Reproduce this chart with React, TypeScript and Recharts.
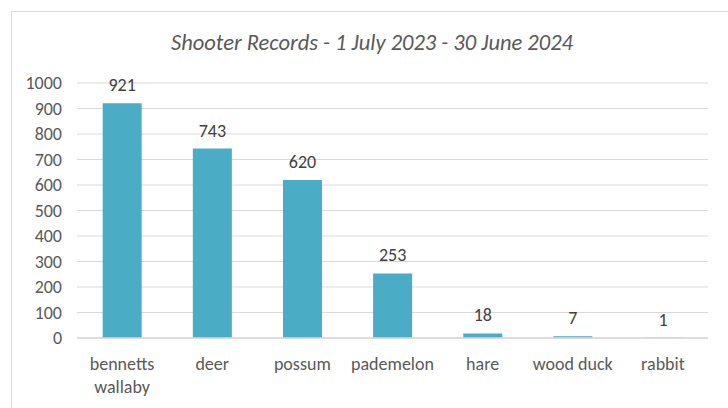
import React from "react";
import { BarChart, Bar, XAxis, YAxis, CartesianGrid, LabelList } from "recharts";

const categories = ["bennetts wallaby", "deer", "possum", "pademelon", "hare", "wood duck", "rabbit"];
const counts = [921, 743, 620, 253, 18, 7, 1];
const yTicks = [0, 100, 200, 300, 400, 500, 600, 700, 800, 900, 1000];
const title = "Shooter Records - 1 July 2023 - 30 June 2024";

const data = categories.map((c, i) => ({ name: c, value: counts[i] }));

const FONT = "Carlito, Lato, 'Open Sans', sans-serif";

const XTick = (props: any) => {
  const { x, y, payload } = props;
  const label: string = payload.value;
  const lines = label === "bennetts wallaby" ? ["bennetts", "wallaby"] : [label];
  return (
    <text x={x} y={y} textAnchor="middle" fill="#595959" fontSize={18} fontFamily={FONT}>
      {lines.map((l, i) => (
        <tspan key={i} x={x} dy={i === 0 ? "0.71em" : 23}>
          {l}
        </tspan>
      ))}
    </text>
  );
};

export default function App() {
  return (
    <div style={{ position: "absolute", left: 0, top: 0, width: 728, height: 408, overflow: "hidden", background: "#fff" }}>
      <div
        style={{
          position: "absolute",
          left: 11,
          top: 11,
          width: 760,
          height: 440,
          border: "1px solid #d9d9d9",
          boxSizing: "border-box",
        }}
      />
      <div
        style={{
          position: "absolute",
          left: 0,
          top: 29,
          width: 744,
          textAlign: "center",
          fontFamily: FONT,
          fontStyle: "italic",
          fontSize: 22.5,
          color: "#595959",
          lineHeight: "28px",
        }}
      >
        {title}
      </div>
      <div style={{ position: "absolute", left: 0, top: 0 }}>
        <BarChart
          width={728}
          height={408}
          data={data}
          margin={{ top: 83, right: 20, bottom: 20, left: 17 }}
          barCategoryGap="28.5%"
        >
          <CartesianGrid vertical={false} stroke="#d9d9d9" strokeWidth={1} />
          <XAxis
            dataKey="name"
            axisLine={{ stroke: "#d9d9d9", strokeWidth: 1.5 }}
            tickLine={false}
            height={50}
            interval={0}
            tick={<XTick />}
            tickMargin={13}
          />
          <YAxis
            width={60}
            domain={[0, 1000]}
            ticks={yTicks}
            axisLine={false}
            tickLine={false}
            tickMargin={9}
            interval={0}
            tick={{ fill: "#595959", fontSize: 18, fontFamily: FONT }}
          />
          <Bar dataKey="value" fill="#4bacc6" isAnimationActive={false}>
            <LabelList dataKey="value" position="top" offset={12} fill="#404040" fontSize={18} fontFamily={FONT} />
          </Bar>
        </BarChart>
      </div>
    </div>
  );
}
